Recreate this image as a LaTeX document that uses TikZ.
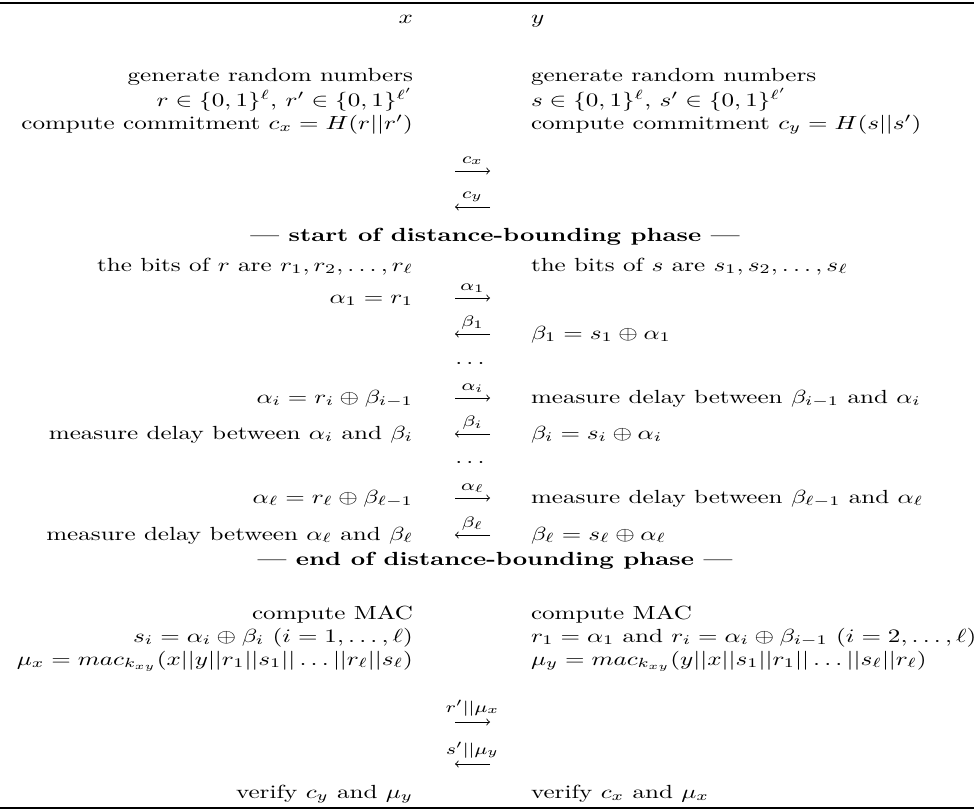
\documentclass[tikz,border=0pt]{standalone}
\usepackage{amsmath,amssymb}
\begin{document}
\begin{tikzpicture}[x=0.5263pt,y=-0.5263pt,
  every node/.style={inner sep=0pt, outer sep=0pt, xscale=1.32},
  L/.style={anchor=base east},
  R/.style={anchor=base west},
  C/.style={anchor=base},
  lbl/.style={anchor=base, font=\fontsize{8}{9.5}\selectfont},
  msg/.style={-to, line width=0.45pt},
  rulel/.style={line width=0.8pt}]
\useasboundingbox (0,0) rectangle (974,811);
% rules
\coordinate (tl) at (0,3); \coordinate (tr) at (974,3);
\coordinate (bl) at (0,808); \coordinate (br) at (974,808);
\draw[rulel] (tl) -- (tr);
\draw[rulel] (bl) -- (br);
% header
\node[L] (hx) at (413,24) {$x$};
\node[R] (hy) at (531,24) {$y$};
% commitment phase
\node[L] (x1) at (413,82) {generate random numbers};
\node[L] (x2) at (413,106) {$r\in\{0,1\}^\ell$, $r'\in\{0,1\}^{\ell'}$};
\node[L] (x3) at (413,129) {compute commitment $c_x=H(r||r')$};
\node[R] (y1) at (531,82) {generate random numbers};
\node[R] (y2) at (531,106) {$s\in\{0,1\}^\ell$, $s'\in\{0,1\}^{\ell'}$};
\node[R] (y3) at (531,129) {compute commitment $c_y=H(s||s')$};
\coordinate (a1l) at (455,171); \coordinate (a1r) at (490,171);
\draw[msg] (a1l) -- (a1r);
\node[lbl] (t1) at (472.5,163) {$c_x$};
\coordinate (a2l) at (455,207); \coordinate (a2r) at (490,207);
\draw[msg] (a2r) -- (a2l);
\node[lbl] (t2) at (472.5,198) {$c_y$};
% distance bounding
\node[C] (start) at (495,241) {\textbf{--- start of distance-bounding phase ---}};
\node[L] (x4) at (413,271) {the bits of $r$ are $r_1,r_2,\ldots,r_\ell$};
\node[R] (y4) at (531,271) {the bits of $s$ are $s_1,s_2,\ldots,s_\ell$};
\node[L] (x5) at (413,303) {$\alpha_1=r_1$};
\coordinate (a3l) at (455,298); \coordinate (a3r) at (490,298);
\draw[msg] (a3l) -- (a3r);
\node[lbl] (t3) at (472.5,290) {$\alpha_1$};
\node[R] (y6) at (531,339) {$\beta_1=s_1\oplus\alpha_1$};
\coordinate (a4l) at (455,334); \coordinate (a4r) at (490,334);
\draw[msg] (a4r) -- (a4l);
\node[lbl] (t4) at (472.5,326) {$\beta_1$};
\node[C] (d1) at (470,364) {$\ldots$};
\node[L] (x7) at (413,403) {$\alpha_i=r_i\oplus\beta_{i-1}$};
\node[R] (y7) at (531,403) {measure delay between $\beta_{i-1}$ and $\alpha_i$};
\coordinate (a5l) at (455,398); \coordinate (a5r) at (490,398);
\draw[msg] (a5l) -- (a5r);
\node[lbl] (t5) at (472.5,390) {$\alpha_i$};
\node[L] (x8) at (413,439) {measure delay between $\alpha_i$ and $\beta_i$};
\node[R] (y8) at (531,439) {$\beta_i=s_i\oplus\alpha_i$};
\coordinate (a6l) at (455,434); \coordinate (a6r) at (490,434);
\draw[msg] (a6r) -- (a6l);
\node[lbl] (t6) at (472.5,426) {$\beta_i$};
\node[C] (d2) at (470,463) {$\ldots$};
\node[L] (x9) at (413,503) {$\alpha_\ell=r_\ell\oplus\beta_{\ell-1}$};
\node[R] (y9) at (531,503) {measure delay between $\beta_{\ell-1}$ and $\alpha_\ell$};
\coordinate (a7l) at (455,498); \coordinate (a7r) at (490,498);
\draw[msg] (a7l) -- (a7r);
\node[lbl] (t7) at (472.5,490) {$\alpha_\ell$};
\node[L] (x10) at (413,540) {measure delay between $\alpha_\ell$ and $\beta_\ell$};
\node[R] (y10) at (531,540) {$\beta_\ell=s_\ell\oplus\alpha_\ell$};
\coordinate (a8l) at (455,535); \coordinate (a8r) at (490,535);
\draw[msg] (a8r) -- (a8l);
\node[lbl] (t8) at (472.5,527) {$\beta_\ell$};
\node[C] (end) at (495,565) {\textbf{--- end of distance-bounding phase ---}};
% MAC phase
\node[L] (x11) at (413,619) {compute MAC};
\node[R] (y11) at (531,619) {compute MAC};
\node[L] (x12) at (413,642) {$s_i=\alpha_i\oplus\beta_i$ $(i=1,\ldots,\ell)$};
\node[R] (y12) at (531,642) {$r_1=\alpha_1$ and $r_i=\alpha_i\oplus\beta_{i-1}$ $(i=2,\ldots,\ell)$};
\node[L] (x13) at (413,665) {$\mu_x=mac_{k_{xy}}(x||y||r_1||s_1||\ldots||r_\ell||s_\ell)$};
\node[R] (y13) at (531,665) {$\mu_y=mac_{k_{xy}}(y||x||s_1||r_1||\ldots||s_\ell||r_\ell)$};
\coordinate (a9l) at (455,722); \coordinate (a9r) at (490,722);
\draw[msg] (a9l) -- (a9r);
\node[lbl] (t9) at (472.5,712) {$r'||\mu_x$};
\coordinate (a10l) at (455,764); \coordinate (a10r) at (490,764);
\draw[msg] (a10r) -- (a10l);
\node[lbl] (t10) at (472.5,754) {$s'||\mu_y$};
\node[L] (x14) at (413,798) {verify $c_y$ and $\mu_y$};
\node[R] (y14) at (531,798) {verify $c_x$ and $\mu_x$};
\end{tikzpicture}
\end{document}
